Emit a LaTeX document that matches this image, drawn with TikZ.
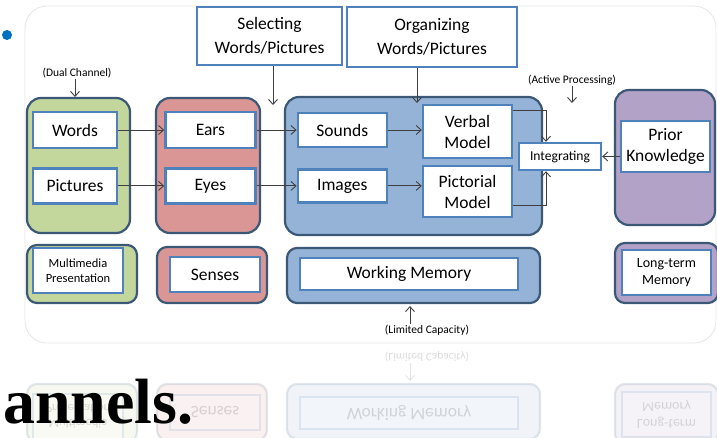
\documentclass[tikz,border=0pt]{standalone}
\usepackage{fontspec}
\setmainfont{Carlito}
\newfontfamily\titlefont{Liberation Serif}
\usetikzlibrary{positioning, arrows.meta}

\definecolor{grpline}{HTML}{3B5876}
\definecolor{boxline}{HTML}{4F81BD}
\definecolor{greenfill}{HTML}{C3D69B}
\definecolor{redfill}{HTML}{D99694}
\definecolor{bluefill}{HTML}{95B3D7}
\definecolor{purplefill}{HTML}{B3A2C7}
\definecolor{arrowgray}{HTML}{3F3F3F}
\definecolor{bulletblue}{HTML}{0070C0}

\begin{document}
\begin{tikzpicture}[
    x=1pt, y=-1pt,
    group/.style={
        draw=grpline,
        line width=2.2pt,
        rounded corners=14pt,
        inner sep=0pt
    },
    memgroup/.style={group, rounded corners=10pt},
    block/.style={
        draw=boxline,
        fill=white,
        line width=2.4pt,
        inner sep=0pt,
        align=center,
        font=\fontsize{17.5}{21}\selectfont
    },
    note/.style={inner sep=1pt, font=\fontsize{11.5}{13}\selectfont},
    arrow/.style={draw=arrowgray, line width=0.9pt, -{Straight Barb[length=5pt,width=9pt]}},
    link/.style={draw=arrowgray, line width=0.9pt}
]
\useasboundingbox (0,0) rectangle (717,437);

% Slide panel
\draw[black!10, line width=0.8pt, rounded corners=22pt] (25,6) rectangle (716,343);
\node[circle, fill=bulletblue, minimum size=10pt, inner sep=0pt] (bullet) at (7,35) {};

% Groups
\node[group, fill=greenfill, minimum width=103pt, minimum height=135pt] (green) at (78.5,165.5) {};
\node[group, fill=redfill, minimum width=104pt, minimum height=135pt] (red) at (208,165.5) {};
\node[group, fill=bluefill, minimum width=257pt, minimum height=138pt] (blue) at (413.5,166) {};
\node[group, fill=purplefill, minimum width=100pt, minimum height=135pt] (purple) at (665,157.5) {};

% Top boxes
\node[block, minimum width=145pt, minimum height=58pt, font=\fontsize{17.5}{24}\selectfont] (sel) at (269.5,36) {Selecting\\Words/Pictures};
\node[block, minimum width=170pt, minimum height=60pt, font=\fontsize{17.5}{24}\selectfont] (org) at (432,37) {Organizing\\Words/Pictures};

% Inner boxes
\node[block, minimum width=84pt, minimum height=36pt] (words) at (75,130) {Words};
\node[block, minimum width=84pt, minimum height=35pt, below=18pt of words] (pictures) {Pictures};

\node[block, minimum width=90pt, minimum height=36pt, right=46pt of words] (ears) {Ears};
\node[block, minimum width=90pt, minimum height=35pt, below=18pt of ears] (eyes) {Eyes};

\node[block, minimum width=89pt, minimum height=34pt, right=40pt of ears] (sounds) {Sounds};
\node[block, minimum width=89pt, minimum height=33pt, right=40pt of eyes] (images) {Images};

\node[block, minimum width=89pt, minimum height=53pt] (verbal) at (467.5,131.5) {Verbal\\Model};
\node[block, minimum width=89pt, minimum height=51pt] (pictorial) at (467.5,191.5) {Pictorial\\Model};

\node[block, minimum width=82pt, minimum height=27pt, font=\fontsize{13.6}{16}\selectfont] (integ) at (560,156.5) {Integrating};
\node[block, minimum width=89pt, minimum height=51pt] (prior) at (665.5,146.5) {Prior\\Knowledge};

% Notes
\node[note] (duallbl) at (77,73) {(Dual Channel)};
\node[note] (activelbl) at (572,80) {(Active Processing)};
\coordinate (dualtip) at (75,97);
\coordinate (activetip) at (572,103);
\coordinate (seltip) at (273,105);
\coordinate (orgtip) at (417,103);

% Arrows
\draw[arrow] (duallbl.south -| dualtip) -- (dualtip);
\draw[arrow] (activelbl.south -| activetip) -- (activetip);
\draw[arrow] (sel.south -| seltip) -- (seltip);
\draw[arrow] (org.south -| orgtip) -- (orgtip);

\draw[arrow] (words) -- (ears);
\draw[arrow] (pictures) -- (eyes);
\draw[arrow] (ears) -- (sounds);
\draw[arrow] (eyes) -- (images);
\draw[arrow] (sounds.east) -- (sounds.east -| verbal.west);
\draw[arrow] (images.east) -- (images.east -| pictorial.west);
\draw[arrow] ([yshift=-7pt]verbal.north east) -| ([xshift=-14pt]integ.north);
\draw[arrow] ([yshift=13pt]pictorial.south east) -| ([xshift=-14pt]integ.south);
\draw[arrow] (prior.west |- integ.east) -- (integ.east);

% Bottom row
\node[memgroup, fill=greenfill, minimum width=110pt, minimum height=58pt] (mmgroup) at (82,274) {};
\node[block, minimum width=90pt, minimum height=45pt, font=\fontsize{12.5}{15}\selectfont] (multimedia) at (78,270.5) {Multimedia\\Presentation};
\node[memgroup, fill=redfill, minimum width=110pt, minimum height=56pt] (sensgroup) at (212,275) {};
\node[block, minimum width=90pt, minimum height=35pt] (senses) at (215,274.5) {Senses};
\node[memgroup, fill=bluefill, minimum width=253pt, minimum height=55pt] (wmgroup) at (413.5,275.5) {};
\node[block, minimum width=218pt, minimum height=32pt] (working) at (409,274) {Working Memory};
\node[memgroup, fill=purplefill, minimum width=103pt, minimum height=60pt] (ltgroup) at (666.5,273) {};
\node[block, minimum width=89pt, minimum height=45pt, font=\fontsize{14}{17}\selectfont] (longterm) at (666.5,272.5) {Long-term\\Memory};

\node[note] (limitlbl) at (427,330) {(Limited Capacity)};
\coordinate (limittip) at (410,306);
\draw[arrow] (limitlbl.north -| limittip) -- (limittip);

% Reflection
\begin{scope}[shift={(0,687)}, yscale=-1, transform shape, opacity=0.14]
\node[memgroup, fill=greenfill, minimum width=110pt, minimum height=58pt] (mmgroupr) at (82,274) {};
\node[block, minimum width=90pt, minimum height=45pt, font=\fontsize{12.5}{15}\selectfont] (multimediar) at (78,270.5) {Multimedia\\Presentation};
\node[memgroup, fill=redfill, minimum width=110pt, minimum height=56pt] (sensgroupr) at (212,275) {};
\node[block, minimum width=90pt, minimum height=35pt] (sensesr) at (215,274.5) {Senses};
\node[memgroup, fill=bluefill, minimum width=253pt, minimum height=55pt] (wmgroupr) at (413.5,275.5) {};
\node[block, minimum width=218pt, minimum height=32pt] (workingr) at (409,274) {Working Memory};
\node[memgroup, fill=purplefill, minimum width=103pt, minimum height=60pt] (ltgroupr) at (666.5,273) {};
\node[block, minimum width=89pt, minimum height=45pt, font=\fontsize{14}{17}\selectfont] (longtermr) at (666.5,272.5) {Long-term\\Memory};
\node[note] (limitlblr) at (427,330) {(Limited Capacity)};
\coordinate (limittipr) at (410,306);
\draw[arrow] (limitlblr.north -| limittipr) -- (limittipr);
\end{scope}

% Title fragment
\node[anchor=base west, inner sep=0pt, font=\titlefont\bfseries\fontsize{64}{64}\selectfont] (title) at (3,423) {annels.};

\end{tikzpicture}
\end{document}
